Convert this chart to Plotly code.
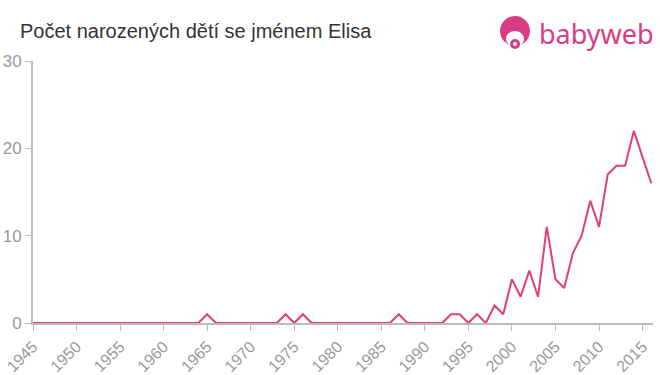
import plotly.graph_objects as go

years = list(range(1945, 2017))
counts_by_year = {1965: 1, 1974: 1, 1976: 1, 1987: 1,
                  1993: 1, 1994: 1, 1995: 0, 1996: 1, 1997: 0, 1998: 2, 1999: 1,
                  2000: 5, 2001: 3, 2002: 6, 2003: 3, 2004: 11, 2005: 5, 2006: 4,
                  2007: 8, 2008: 10, 2009: 14, 2010: 11, 2011: 17, 2012: 18,
                  2013: 18, 2014: 22, 2015: 19, 2016: 16}
counts = [counts_by_year.get(y, 0) for y in years]
x_ticks = list(range(1945, 2016, 5))
y_ticks = [0, 10, 20, 30]

W, H = 660, 375
ML, MR, MT, MB = 33, 7, 61, 52

fig = go.Figure()
fig.add_trace(go.Scatter(x=years, y=counts, mode="lines",
                         line=dict(color="#e0406e", width=2), hoverinfo="x+y"))

axis_color = "#bbbbbb"
fig.update_layout(
    width=W, height=H,
    margin=dict(l=ML, r=MR, t=MT, b=MB),
    paper_bgcolor="white", plot_bgcolor="white",
    showlegend=False,
    font=dict(family="Liberation Sans, Arial, sans-serif", color="#999999", size=15),
    title=dict(text="Počet narozených dětí se jménem Elisa",
               x=20/W, xanchor="left", y=1-31/H, yanchor="middle",
               font=dict(size=20, color="#333333")),
    xaxis=dict(range=[1945, 2016.2], tickvals=x_ticks, tickangle=-45,
               showgrid=False, zeroline=False, showline=True, linecolor=axis_color,
               linewidth=2, ticks="outside", ticklen=6, tickcolor=axis_color,
               tickwidth=1, automargin=False, tickfont=dict(size=16, color="#999999")),
    yaxis=dict(range=[0, 30], tickvals=y_ticks,
               showgrid=False, zeroline=False, showline=True, linecolor=axis_color,
               linewidth=2, ticks="outside", ticklen=6, tickcolor=axis_color,
               tickwidth=1, automargin=False, tickfont=dict(size=17, color="#999999")),
)

pink = "#d93c85"
PW, PH = W - ML - MR, H - MT - MB
def px(x):
    return (x - ML) / PW
def py(y):
    return (H - MB - y) / PH
fig.add_shape(type="circle", xref="paper", yref="paper",
              x0=px(500), x1=px(530), y0=py(46), y1=py(16),
              fillcolor=pink, line=dict(width=0))
fig.add_shape(type="circle", xref="paper", yref="paper",
              x0=px(506), x1=px(524), y0=py(47), y1=py(31),
              fillcolor="white", line=dict(width=0))
fig.add_shape(type="circle", xref="paper", yref="paper",
              x0=px(510), x1=px(520), y0=py(49), y1=py(39),
              fillcolor=pink, line=dict(width=0))
fig.add_shape(type="circle", xref="paper", yref="paper",
              x0=px(513), x1=px(517), y0=py(46), y1=py(42),
              fillcolor="white", line=dict(width=0))
fig.add_annotation(text="babyweb", xref="paper", yref="paper",
                   x=px(537), y=py(33), xanchor="left", yanchor="middle",
                   showarrow=False,
                   font=dict(family="Noto Sans, Lato, sans-serif", size=27, color=pink))

fig.write_html("out.html", config={"displayModeBar": False},
               post_script="document.body.style.margin='0';")
